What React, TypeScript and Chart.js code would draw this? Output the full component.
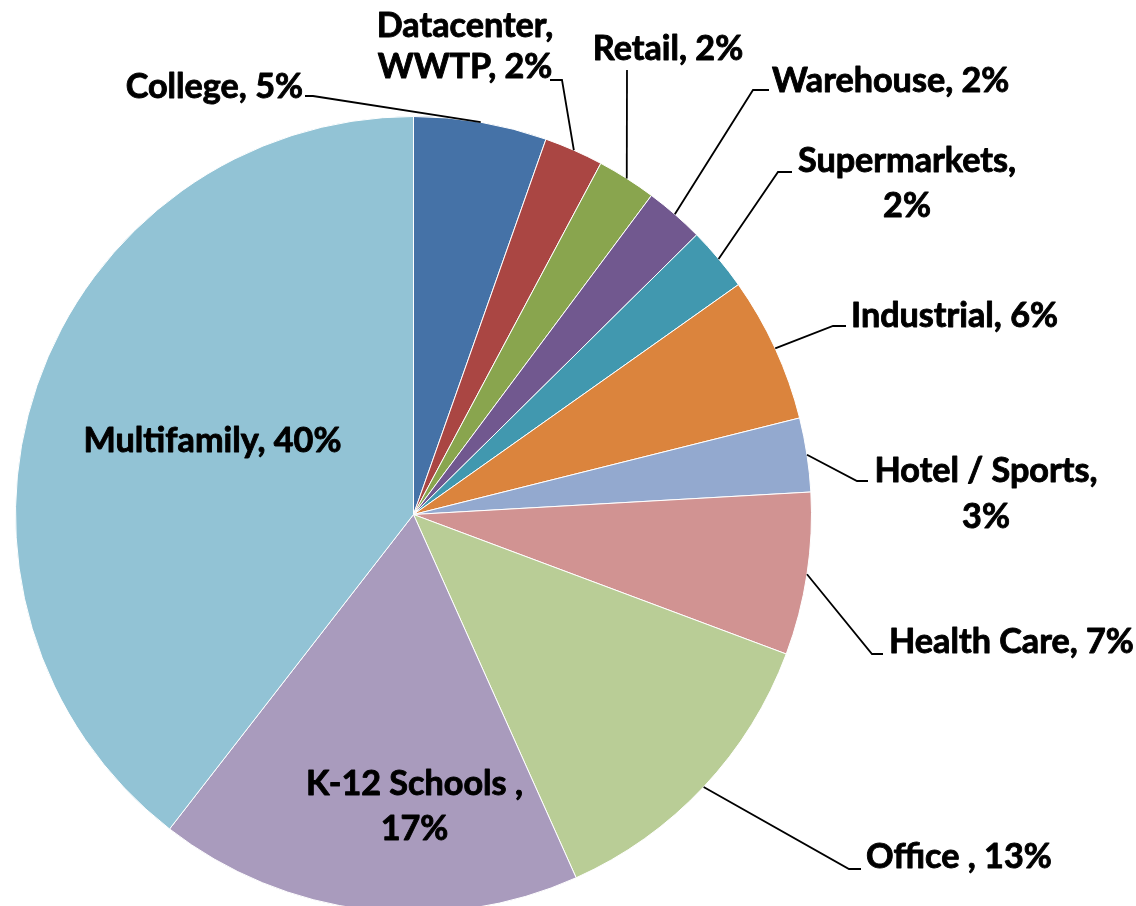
import React, { useEffect, useRef } from 'react';
import { Chart, registerables } from 'chart.js';

Chart.register(...registerables);

// ---- Data ----
const categories = [
  'College',
  'Datacenter, WWTP',
  'Retail',
  'Warehouse',
  'Supermarkets',
  'Industrial',
  'Hotel / Sports',
  'Health Care',
  'Office ',
  'K-12 Schools ',
  'Multifamily',
];
const values = [5.4, 2.4, 2.4, 2.4, 2.6, 5.9, 3.0, 6.6, 12.6, 17.2, 39.5];
const labelLines = [
  ['College, 5%'],
  ['Datacenter,', 'WWTP, 2%'],
  ['Retail, 2%'],
  ['Warehouse, 2%'],
  ['Supermarkets,', '2%'],
  ['Industrial, 6%'],
  ['Hotel / Sports,', '3%'],
  ['Health Care, 7%'],
  ['Office , 13%'],
  ['K-12 Schools ,', '17%'],
  ['Multifamily, 40%'],
];

// ---- Styles / layout ----
const colors = [
  '#4572A7', '#AA4643', '#89A54E', '#71588F', '#4198AF', '#DB843D',
  '#93A9CF', '#D19392', '#B9CD96', '#A99BBD', '#92C3D5',
];
const FONT = 'Lato, "Open Sans", sans-serif';

type Layout = {
  inside?: boolean;
  x: number; // elbow (or inside anchor) offset from pie centre
  y: number;
  tail: number;
  align: CanvasTextAlign;
  dx: number;
  dy: number;
  gap: number;
};

const labelLayout: Layout[] = [
  { x: -100.5, y: -418.5, tail: -8, align: 'right', dx: -2, dy: 2, gap: 45 },
  { x: 148.5, y: -434.5, tail: -12, align: 'center', dx: -85, dy: -43, gap: 41 },
  { x: 213.5, y: -444.5, tail: 0, align: 'center', dx: 41, dy: -10, gap: 45 },
  { x: 339.5, y: -424.5, tail: 16, align: 'left', dx: 3, dy: 2, gap: 45 },
  { x: 364.5, y: -342.5, tail: 14, align: 'center', dx: 115, dy: 0, gap: 45 },
  { x: 419.5, y: -188.5, tail: 13, align: 'left', dx: 5, dy: 1, gap: 45 },
  { x: 443.5, y: -33.5, tail: 11, align: 'center', dx: 118, dy: 1, gap: 46 },
  { x: 458.5, y: 139.5, tail: 11, align: 'left', dx: 6, dy: -1, gap: 45 },
  { x: 435.5, y: 354.5, tail: 12, align: 'left', dx: 5, dy: -1, gap: 45 },
  { inside: true, x: 1, y: 280.5, tail: 0, align: 'center', dx: 0, dy: 0, gap: 45 },
  { inside: true, x: -201, y: -62.5, tail: 0, align: 'center', dx: 0, dy: 0, gap: 45 },
];

const leaderLabels = {
  id: 'leaderLabels',
  afterDatasetsDraw(chart: any) {
    const ctx: CanvasRenderingContext2D = chart.ctx;
    const meta = chart.getDatasetMeta(0);
    ctx.save();
    ctx.font = `bold 36px ${FONT}`;
    const w = ctx.measureText('Multifamily, 40%').width;
    const size = (36 * 258) / w;
    const font = `bold ${size.toFixed(1)}px ${FONT}`;
    meta.data.forEach((arc: any, i: number) => {
      const p = arc.getProps(['x', 'y', 'startAngle', 'endAngle', 'outerRadius'], true);
      const mid = (p.startAngle + p.endAngle) / 2;
      const ex = p.x + Math.cos(mid) * p.outerRadius;
      const ey = p.y + Math.sin(mid) * p.outerRadius;
      const L = labelLayout[i];
      let tx: number;
      let ty: number;
      if (L.inside) {
        tx = p.x + L.x;
        ty = p.y + L.y;
      } else {
        const px = p.x + L.x;
        const py = p.y + L.y;
        tx = px + L.tail;
        ty = py;
        ctx.beginPath();
        ctx.moveTo(ex, ey);
        ctx.lineTo(px, py);
        if (L.tail) ctx.lineTo(tx, ty);
        ctx.strokeStyle = '#000';
        ctx.lineWidth = 1.8;
        ctx.lineJoin = 'miter';
        ctx.stroke();
      }
      ctx.font = font;
      ctx.fillStyle = '#000';
      ctx.strokeStyle = '#000';
      ctx.lineWidth = 0.9;
      ctx.lineJoin = 'round';
      ctx.textAlign = L.align;
      ctx.textBaseline = 'alphabetic';
      labelLines[i].forEach((line, j) => {
        const lx = tx + L.dx;
        const ly = ty + L.dy + j * L.gap;
        ctx.fillText(line, lx, ly);
        ctx.strokeText(line, lx, ly);
      });
    });
    ctx.restore();
  },
};

export default function App() {
  const ref = useRef<HTMLCanvasElement | null>(null);
  useEffect(() => {
    if (!ref.current) return;
    const chart = new Chart(ref.current, {
      type: 'pie',
      data: {
        labels: categories,
        datasets: [
          {
            data: values,
            backgroundColor: colors,
            borderColor: '#ffffff',
            borderWidth: 1,
          },
        ],
      },
      options: {
        responsive: false,
        animation: false,
        layout: { padding: { left: 15, top: 116, right: 324, bottom: 7 } },
        plugins: {
          legend: { display: false },
          tooltip: { enabled: false },
        },
      },
      plugins: [leaderLabels],
    });
    return () => chart.destroy();
  }, []);
  return (
    <div
      style={{
        position: 'fixed',
        left: 0,
        top: 0,
        width: 1136,
        height: 906,
        overflow: 'hidden',
        background: '#fff',
      }}
    >
      <canvas ref={ref} width={1136} height={920} style={{ display: 'block' }} />
    </div>
  );
}
